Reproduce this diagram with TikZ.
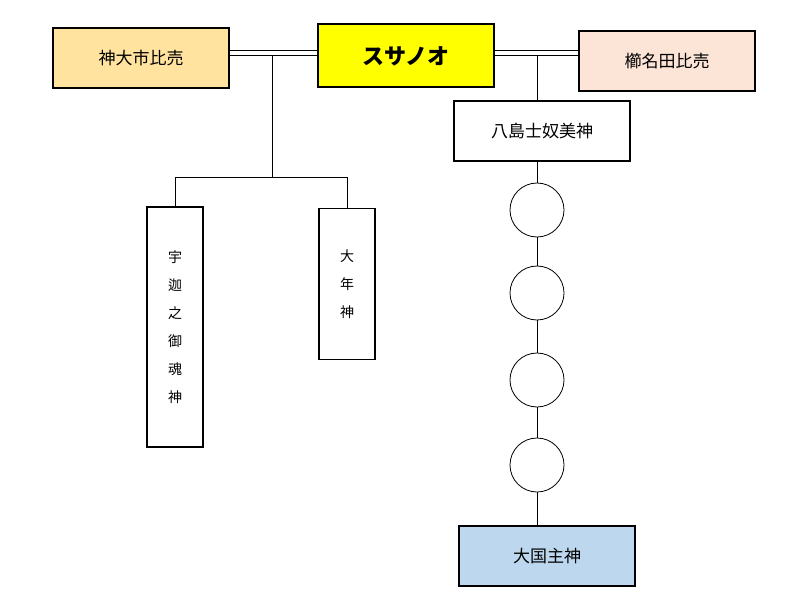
\documentclass[tikz,border=0pt]{standalone}
\usepackage{fontspec}
\setmainfont{Noto Sans CJK JP}
\usetikzlibrary{positioning}

\definecolor{boxorange}{rgb}{1.000000, 0.890000, 0.620000}
\definecolor{boxyellow}{rgb}{1.000000, 1.000000, 0.000000}
\definecolor{boxpink}{rgb}{0.988000, 0.894000, 0.839000}
\definecolor{boxblue}{rgb}{0.741000, 0.843000, 0.933000}

\tikzset{
  godbox/.style={draw, line width=2pt, minimum width=176pt, minimum height=60pt, font=\fontsize{17}{20}\selectfont},
  tallbox/.style={draw, line width=1.2pt, minimum width=56pt, align=center, font=\fontsize{14}{28}\selectfont},
  gen/.style={draw, circle, line width=0.8pt, minimum size=54pt, inner sep=0pt},
  wed/.style={line width=0.8pt, double, double distance=4pt},
  line/.style={line width=0.8pt}
}

\begin{document}
\begin{tikzpicture}[x=1pt, y=-1pt]
\useasboundingbox (0,0) rectangle (802,612);
% upper row
\node[godbox, fill=boxyellow, minimum height=63pt, font=\fontsize{22}{26}\selectfont\bfseries] (susa) at (406,56) {スサノオ};
\node[godbox, fill=boxorange] (kamu) at (141,58) {神大市比売};
\node[godbox, fill=boxpink] (kushi) at (667,61) {櫛名田比売};
\draw[wed] (kamu.east |- 0,53) -- (susa.west |- 0,53);
\draw[wed] (susa.east |- 0,53) -- (kushi.west |- 0,53);
% children of kamu
\node[tallbox, minimum height=240pt] (uka) at (175,327) {宇\\迦\\之\\御\\魂\\神};
\node[tallbox, minimum height=151pt] (toshi) at (347,284) {大\\年\\神};
\coordinate (kfork) at (272,56);
\coordinate (kbar) at (272,177);
\draw[line] (kfork) -- (kbar);
\draw[line] (uka.north) -- (uka.north |- kbar) -- (toshi.north |- kbar) -- (toshi.north);
% line of kushi
\node[godbox, fill=white] (yashima) at (542,131) {八島士奴美神};
\coordinate (sfork) at (537,56);
\draw[line] (sfork) -- (sfork |- yashima.north);
\node[gen] (g1) at (537,210) {};
\node[gen] (g2) at (537,293) {};
\node[gen] (g3) at (537,380) {};
\node[gen] (g4) at (537,465) {};
\node[godbox, fill=boxblue] (okuni) at (547,556) {大国主神};
\draw[line] (yashima.south -| g1) -- (g1);
\draw[line] (g1) -- (g2);
\draw[line] (g2) -- (g3);
\draw[line] (g3) -- (g4);
\draw[line] (g4) -- (g4 |- okuni.north);
\end{tikzpicture}
\end{document}
